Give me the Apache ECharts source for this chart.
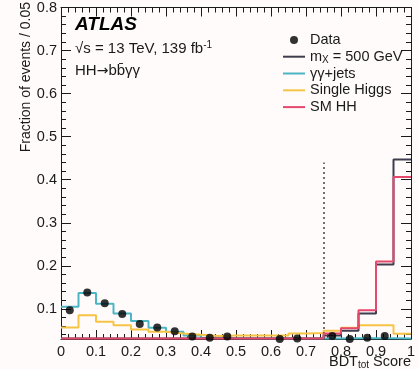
<!DOCTYPE html>
<html>
<head>
<meta charset="utf-8">
<script src="https://cdn.jsdelivr.net/npm/echarts@6/dist/echarts.min.js"></script>
<style>
html,body{margin:0;padding:0;background:#fffbfa;}
#chart{width:419px;height:369px;}
</style>
</head>
<body>
<div id="chart"></div>
<script>
// ---- data ----
const binEdges = [0,0.05,0.1,0.15,0.2,0.25,0.3,0.35,0.4,0.45,0.5,0.55,0.6,0.65,0.7,0.75,0.8,0.85,0.9,0.95,1.0];
const binCenters = [0.025,0.075,0.125,0.175,0.225,0.275,0.325,0.375,0.425,0.475,0.525,0.575,0.625,0.675,0.725,0.775,0.825,0.875,0.925,0.975];
const dataValues = [0.097,0.138,0.113,0.088,0.065,0.057,0.048,0.036,0.033,0.036,null,null,0.030,0.031,null,0.037,0.030,0.033,0.037,null];
const mx500Values = [0.031,0.031,0.031,0.031,0.031,0.031,0.031,0.031,0.031,0.031,0.031,0.031,0.031,0.031,0.031,0.038,0.049,0.089,0.203,0.447];
const yyJetsValues = [0.105,0.137,0.112,0.089,0.072,0.056,0.047,0.038,0.033,0.032,0.031,0.031,0.031,0.031,0.031,0.031,0.032,0.032,0.032,0.031];
const singleHiggsValues = [0.057,0.085,0.070,0.062,0.052,0.047,0.043,0.040,0.037,0.038,0.038,0.038,0.038,0.043,0.044,0.049,0.056,0.062,0.062,0.042];
const smHHValues = [0.031,0.031,0.031,0.031,0.031,0.031,0.031,0.031,0.031,0.031,0.031,0.031,0.031,0.031,0.031,0.043,0.055,0.097,0.210,0.406];
const yTicks = [0.1,0.2,0.3,0.4,0.5,0.6,0.7,0.8];
const xTicks = [0,0.1,0.2,0.3,0.4,0.5,0.6,0.7,0.8,0.9,1];
const cutValue = 0.75;
const cutTop = 0.44;
const yMin = 0.03, yMax = 0.8;

// ---- helpers ----
function stepData(vals){
  const pts = vals.map((v,i)=>[binEdges[i], v]);
  pts.push([binEdges[binEdges.length-1], vals[vals.length-1]]);
  return pts;
}
const yMinor = [];
for (let k = 2; k <= 40; k++) { const v = +(k*0.02).toFixed(2); if (v > yMin && Math.abs(v*10 - Math.round(v*10)) > 1e-6) yMinor.push(v); }

const FONT = '"Liberation Sans", Arial, Helvetica, sans-serif';
const INK = '#1a1a1a';
const colMX = '#3d3d4d', colYY = '#4db6c5', colSH = '#f6c445', colHH = '#e6486c';

function yAx(pos, ticks, len, labels, line){
  return {
    type:'value', position:pos, min:yMin, max:yMax, gridIndex:0,
    axisLine:{show:line, lineStyle:{color:INK, width:1}},
    axisTick:{show:true, inside:true, length:len, customValues:ticks, lineStyle:{color:INK, width:1}},
    axisLabel:{show:labels, customValues:ticks, fontFamily:FONT, fontSize:14.5, color:INK, margin:4,
               formatter:(v)=>String(+v.toFixed(2))},
    splitLine:{show:false}
  };
}
function xAx(pos, labels){
  return {
    type:'value', position:pos, min:0, max:1, interval:0.1,
    axisLine:{show:true, lineStyle:{color:INK, width:1}},
    axisTick:{show:true, inside:true, length:9, lineStyle:{color:INK, width:1}},
    minorTick:{show:true, splitNumber:5, length:5, lineStyle:{color:INK, width:1}},
    axisLabel:{show:labels, fontFamily:FONT, fontSize:14.5, color:INK, margin:5,
               formatter:(v)=>String(+v.toFixed(2))},
    splitLine:{show:false}, minorSplitLine:{show:false}
  };
}
const hideSym = {opacity:0};
const TX = 75;

const chart = echarts.init(document.getElementById('chart'), null, {renderer:'canvas'});
chart.setOption({
  backgroundColor:'#fffbfa',
  animation:false,
  grid:{left:61, right:8, top:4, bottom:30, containLabel:false},
  xAxis:[xAx('bottom', true), xAx('top', false)],
  yAxis:[yAx('left', yTicks, 10, true, true), yAx('left', yMinor, 5, false, false),
         yAx('right', yTicks, 10, false, true), yAx('right', yMinor, 5, false, false)],
  legend:{
    orient:'vertical', left:282, top:31.5, padding:0, itemWidth:22, itemHeight:8, itemGap:0,
    textStyle:{fontFamily:FONT, fontSize:14.5, color:INK, lineHeight:16.8,
      rich:{
        n:{fontFamily:FONT, fontSize:14.5, color:INK, lineHeight:16.8},
        s:{fontFamily:FONT, fontSize:10, color:INK, lineHeight:16.8, verticalAlign:'bottom', padding:[6,0,0,0]}
      }},
    data:[
      {name:'Data'},
      {name:'mX = 500 GeV', itemStyle:hideSym},
      {name:'γγ+jets', itemStyle:hideSym},
      {name:'Single Higgs', itemStyle:hideSym},
      {name:'SM HH', itemStyle:hideSym}
    ],
    formatter:(name)=> name === 'mX = 500 GeV' ? '{n|m}{s|X}{n| = 500 GeV}' : name
  },
  graphic:[
    {type:'text', x:TX, y:25, style:{text:'ATLAS', font:'italic bold 19px '+FONT, fill:'#000', textVerticalAlign:'middle'}},
    {type:'text', x:TX, y:49, style:{text:'{n|√s = 13 TeV, 139 fb}{p|-1}', textVerticalAlign:'middle', fill:INK,
      rich:{n:{fontFamily:FONT, fontSize:15, fill:INK, lineHeight:18}, p:{fontFamily:FONT, fontSize:10, fill:INK, lineHeight:18, verticalAlign:'top', padding:[0,0,8,0]}}}},
    {type:'text', x:TX, y:71, style:{text:'{n|HH}{a|\u2192}{n|bb\u0304\u03b3\u03b3}', textVerticalAlign:'middle', fill:INK,
      rich:{n:{fontFamily:FONT, fontSize:15, fill:INK, lineHeight:18}, a:{fontFamily:'"DejaVu Sans", sans-serif', fontSize:14, fill:INK, lineHeight:18}}}},
    {type:'text', x:26, y:2, rotation:Math.PI/2, style:{text:'Fraction of events / 0.05', font:'14px '+FONT, fill:INK, textAlign:'right', textVerticalAlign:'middle'}},
    {type:'text', x:411, y:362, style:{text:'{n|BDT}{s|tot}{n| Score}', textAlign:'right', textVerticalAlign:'middle',
      rich:{n:{fontFamily:FONT, fontSize:14.5, fill:INK, lineHeight:17}, s:{fontFamily:FONT, fontSize:10, fill:INK, lineHeight:17, verticalAlign:'bottom', padding:[6,0,0,0]}}}}
  ],
  series:[
    {name:'γγ+jets', type:'line', step:'end', data:stepData(yyJetsValues), symbol:'none', lineStyle:{color:colYY, width:2}, itemStyle:{color:colYY}, z:3},
    {name:'Single Higgs', type:'line', step:'end', data:stepData(singleHiggsValues), symbol:'none', lineStyle:{color:colSH, width:2}, itemStyle:{color:colSH}, z:3},
    {name:'mX = 500 GeV', type:'line', step:'end', data:stepData(mx500Values), symbol:'none', lineStyle:{color:colMX, width:2}, itemStyle:{color:colMX}, z:4},
    {name:'SM HH', type:'line', step:'end', data:stepData(smHHValues), symbol:'none', lineStyle:{color:colHH, width:2}, itemStyle:{color:colHH}, z:5,
      markLine:{silent:true, symbol:'none', label:{show:false}, lineStyle:{color:'#444', type:[2,3], width:1.5},
        data:[[{coord:[cutValue, yMin]},{coord:[cutValue, cutTop]}]]}},
    {name:'Data', type:'scatter', data:binCenters.map((c,i)=>[c, dataValues[i]]).filter(p=>p[1]!==null),
      symbol:'circle', symbolSize:8, itemStyle:{color:'#000'}, z:10}
  ]
});
</script>
</body>
</html>
